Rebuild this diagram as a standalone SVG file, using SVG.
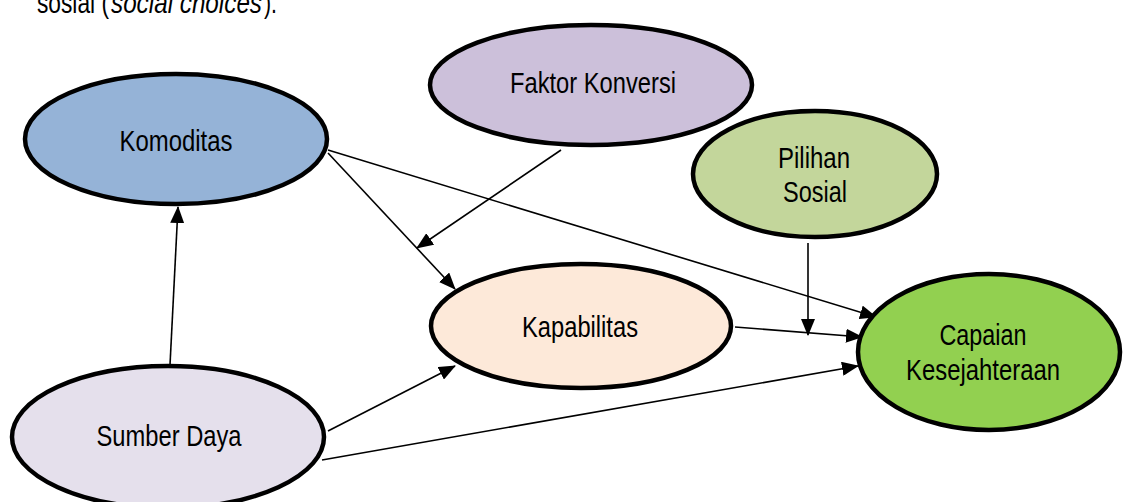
<svg xmlns="http://www.w3.org/2000/svg" width="1124" height="502" viewBox="0 0 1124 502">
<style>
.n{stroke:#000;stroke-width:4.5}
.t{font-family:"Liberation Sans",Arial,sans-serif;font-size:30px;fill:#000;text-anchor:middle}
.h{font-family:"Liberation Sans",Arial,sans-serif;font-size:29px;fill:#000}
.c{stroke:#000;stroke-width:1.6;fill:none;marker-end:url(#ah)}
</style>
<defs>
<marker id="ah" markerUnits="userSpaceOnUse" markerWidth="17" markerHeight="14" viewBox="0 0 17 14" refX="16" refY="7" orient="auto">
<path d="M0,0 L17,7 L0,14 Z" fill="#000"/>
</marker>
</defs>
<rect width="1124" height="502" fill="#fff"/>
<g id="caption">
<text class="h" x="37" y="13" textLength="72" lengthAdjust="spacingAndGlyphs">sosial (</text>
<text class="h" x="111" y="13" font-style="italic" textLength="151" lengthAdjust="spacingAndGlyphs">social choices</text>
<text class="h" x="264" y="13" textLength="13" lengthAdjust="spacingAndGlyphs">).</text>
</g>
<g id="connectors">
<line class="c" x1="170" y1="365" x2="178" y2="207"/>
<line class="c" x1="328" y1="153" x2="455" y2="289"/>
<line class="c" x1="328" y1="150" x2="876" y2="317"/>
<line class="c" x1="561" y1="150" x2="417" y2="248"/>
<line class="c" x1="808" y1="243" x2="808" y2="335"/>
<line class="c" x1="735" y1="327" x2="862" y2="337"/>
<line class="c" x1="328" y1="431" x2="455" y2="366"/>
<line class="c" x1="322" y1="460" x2="858" y2="366"/>
</g>
<g id="komoditas">
<ellipse class="n" cx="176" cy="139" rx="151" ry="65" fill="#95b3d7"/>
<text class="t" x="176" y="151" textLength="113" lengthAdjust="spacingAndGlyphs">Komoditas</text>
</g>
<g id="faktor-konversi">
<ellipse class="n" cx="591" cy="85" rx="161" ry="60" fill="#ccc0da"/>
<text class="t" x="593" y="93" textLength="166" lengthAdjust="spacingAndGlyphs">Faktor Konversi</text>
</g>
<g id="pilihan-sosial">
<ellipse class="n" cx="815" cy="174" rx="122" ry="63" fill="#c3d69b"/>
<text class="t" x="814" y="168" textLength="72" lengthAdjust="spacingAndGlyphs">Pilihan</text>
<text class="t" x="815" y="202" textLength="64" lengthAdjust="spacingAndGlyphs">Sosial</text>
</g>
<g id="kapabilitas">
<ellipse class="n" cx="581" cy="326" rx="150" ry="62" fill="#fde9d9"/>
<text class="t" x="580" y="337" textLength="116" lengthAdjust="spacingAndGlyphs">Kapabilitas</text>
</g>
<g id="capaian-kesejahteraan">
<ellipse class="n" cx="989" cy="352" rx="131" ry="78" fill="#92d050"/>
<text class="t" x="983" y="345" textLength="87" lengthAdjust="spacingAndGlyphs">Capaian</text>
<text class="t" x="983" y="380" textLength="154" lengthAdjust="spacingAndGlyphs">Kesejahteraan</text>
</g>
<g id="sumber-daya">
<ellipse class="n" cx="168" cy="437" rx="156" ry="71" fill="#e5e0ec"/>
<text class="t" x="169" y="446" textLength="145" lengthAdjust="spacingAndGlyphs">Sumber Daya</text>
</g>
</svg>
